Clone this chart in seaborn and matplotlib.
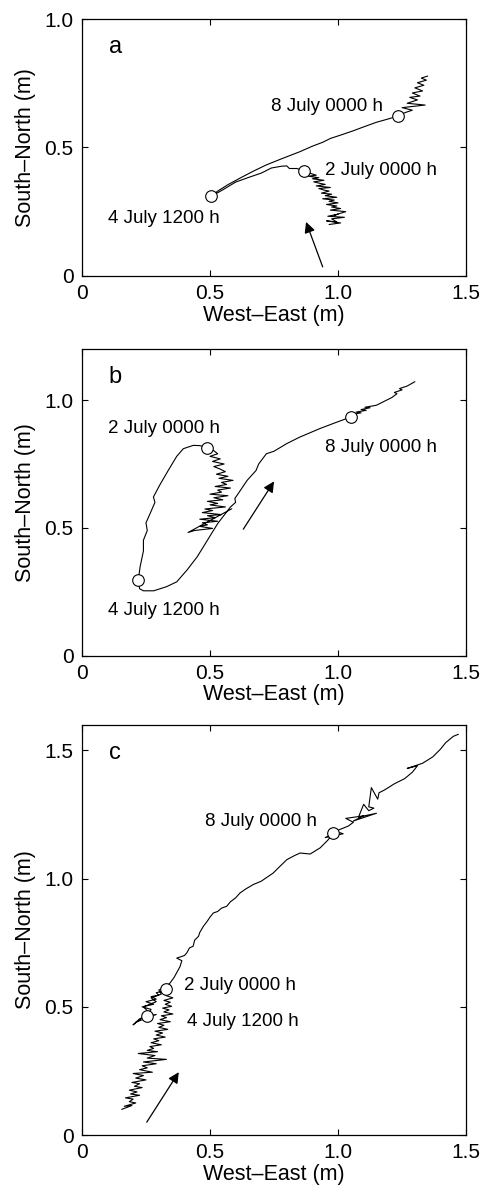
import numpy as np
import pandas as pd
import matplotlib
matplotlib.use("Agg")
import matplotlib.pyplot as plt
import seaborn as sns

# ---- panel a track (West-East, South-North in m) ----
track_a_x = [0.965, 1.01, 0.955, 0.995, 0.975, 1.025, 0.96, 1.00, 0.985, 1.03,
             0.97, 1.01, 0.975, 0.995, 0.955, 1.00, 0.965, 0.985, 0.94, 0.995,
             0.95, 0.975, 0.935, 0.965, 0.945, 0.925, 0.97, 0.915, 0.95, 0.93,
             0.905, 0.945, 0.90, 0.925, 0.885, 0.915, 0.895, 0.875, 0.866,
             0.84, 0.81, 0.80, 0.78, 0.74, 0.70, 0.65, 0.60, 0.55, 0.52, 0.505,
             0.53, 0.57, 0.62, 0.67, 0.72, 0.78, 0.85, 0.90, 0.94, 0.97, 1.01, 1.06,
             1.10, 1.15, 1.20, 1.235,
             1.26, 1.29, 1.25, 1.34, 1.27, 1.31, 1.28, 1.32, 1.29, 1.33, 1.30, 1.335,
             1.31, 1.345, 1.325, 1.35]
track_a_y = [0.200, 0.206, 0.214, 0.210, 0.222, 0.228, 0.232, 0.240, 0.236, 0.250,
             0.256, 0.262, 0.268, 0.272, 0.278, 0.284, 0.290, 0.295, 0.300, 0.306,
             0.312, 0.318, 0.322, 0.330, 0.334, 0.340, 0.344, 0.350, 0.356, 0.360,
             0.366, 0.372, 0.378, 0.382, 0.388, 0.392, 0.398, 0.402, 0.407,
             0.418, 0.418, 0.428, 0.427, 0.420, 0.400, 0.383, 0.365, 0.335, 0.318, 0.310,
             0.330, 0.355, 0.382, 0.408, 0.432, 0.456, 0.483, 0.505, 0.520, 0.535, 0.548, 0.565,
             0.580, 0.598, 0.612, 0.623,
             0.635, 0.645, 0.655, 0.665, 0.672, 0.685, 0.695, 0.700, 0.712, 0.720, 0.732, 0.742,
             0.752, 0.762, 0.770, 0.778]

# ---- panel b track ----
track_b_x = [0.585, 0.414,
             0.44, 0.51, 0.46, 0.49, 0.47, 0.53, 0.46, 0.52, 0.49, 0.545,
             0.47, 0.51, 0.48, 0.56, 0.50, 0.53, 0.49, 0.55, 0.515, 0.57,
             0.50, 0.545, 0.53, 0.58, 0.52, 0.565, 0.545, 0.59, 0.535, 0.57,
             0.525, 0.56, 0.54, 0.515, 0.555, 0.51, 0.54, 0.50, 0.53, 0.515, 0.488,
             0.46, 0.435, 0.396, 0.37, 0.337, 0.305, 0.279, 0.285, 0.266, 0.25, 0.255, 0.24,
             0.24, 0.227, 0.22,
             0.225, 0.24, 0.28, 0.33, 0.37, 0.41, 0.45, 0.49, 0.53, 0.58, 0.60, 0.597, 0.61,
             0.645, 0.68, 0.69, 0.72, 0.75, 0.80, 0.85, 0.93, 0.98, 1.05,
             1.07, 1.055, 1.09, 1.07, 1.11, 1.09, 1.125, 1.105, 1.14, 1.15, 1.18, 1.21, 1.23,
             1.22, 1.25, 1.24, 1.27, 1.30]
track_b_y = [0.575, 0.482,
             0.490, 0.498, 0.506, 0.512, 0.520, 0.526, 0.534, 0.540, 0.548, 0.552,
             0.560, 0.568, 0.574, 0.582, 0.590, 0.596, 0.604, 0.610, 0.618, 0.626,
             0.632, 0.640, 0.648, 0.656, 0.662, 0.670, 0.678, 0.686, 0.694, 0.702,
             0.710, 0.720, 0.730, 0.740, 0.750, 0.760, 0.770, 0.780, 0.790, 0.802, 0.814,
             0.822, 0.823, 0.810, 0.780, 0.725, 0.670, 0.621, 0.600, 0.556, 0.520, 0.490, 0.452,
             0.410, 0.348, 0.295,
             0.262, 0.254, 0.254, 0.270, 0.289, 0.335, 0.387, 0.452, 0.517, 0.582, 0.600, 0.615,
             0.634, 0.686, 0.725, 0.750, 0.790, 0.800, 0.830, 0.855, 0.889, 0.908, 0.934,
             0.940, 0.944, 0.950, 0.953, 0.960, 0.963, 0.970, 0.972, 0.978, 0.980, 0.995, 1.010,
             1.025, 1.030, 1.040, 1.045, 1.055, 1.072]

# ---- panel c track ----
track_c_x = [0.155, 0.195, 0.165, 0.21, 0.185, 0.20, 0.17, 0.225, 0.19, 0.215,
             0.185, 0.235, 0.205, 0.225, 0.195, 0.25, 0.21, 0.24, 0.20, 0.275,
             0.225, 0.255, 0.235, 0.29, 0.24, 0.33, 0.255, 0.285, 0.22, 0.295,
             0.255, 0.28, 0.265, 0.31, 0.27, 0.30, 0.28, 0.325, 0.29, 0.315,
             0.285, 0.335, 0.30, 0.32, 0.295, 0.345, 0.305, 0.33, 0.31, 0.355,
             0.32, 0.34, 0.315, 0.35, 0.325, 0.345, 0.32, 0.355, 0.325, 0.345, 0.33,
             0.31, 0.29, 0.30, 0.27, 0.29, 0.25, 0.28, 0.235, 0.27, 0.253,
             0.29, 0.21, 0.23, 0.20, 0.26, 0.24, 0.29, 0.27, 0.31, 0.30, 0.335,
             0.344, 0.36, 0.383, 0.39, 0.37, 0.40, 0.409, 0.42, 0.434, 0.44, 0.455, 0.46, 0.474,
             0.49, 0.50, 0.513, 0.53, 0.545, 0.565, 0.58, 0.60, 0.617, 0.64, 0.669, 0.70, 0.747,
             0.77, 0.80, 0.83, 0.852, 0.891, 0.93, 0.96, 0.982,
             0.95, 1.02, 0.99, 1.04, 1.06, 1.03, 1.10, 1.06, 1.15, 1.08, 1.10, 1.12, 1.14, 1.12,
             1.13, 1.155, 1.16, 1.18, 1.22, 1.26, 1.29, 1.31, 1.27, 1.33, 1.37, 1.40, 1.42,
             1.45, 1.47]
track_c_y = [0.100, 0.115, 0.112, 0.125, 0.130, 0.140, 0.145, 0.155, 0.160, 0.168,
             0.175, 0.185, 0.190, 0.200, 0.205, 0.215, 0.222, 0.232, 0.240, 0.245,
             0.255, 0.262, 0.270, 0.278, 0.285, 0.295, 0.300, 0.310, 0.318, 0.325,
             0.330, 0.338, 0.345, 0.352, 0.360, 0.368, 0.375, 0.382, 0.390, 0.398,
             0.405, 0.412, 0.420, 0.428, 0.435, 0.442, 0.450, 0.458, 0.465, 0.472,
             0.480, 0.488, 0.495, 0.502, 0.510, 0.518, 0.525, 0.535, 0.545, 0.553, 0.569,
             0.560, 0.555, 0.545, 0.540, 0.530, 0.520, 0.510, 0.500, 0.490, 0.465,
             0.470, 0.440, 0.455, 0.430, 0.480, 0.500, 0.520, 0.535, 0.550, 0.565, 0.585,
             0.593, 0.615, 0.657, 0.680, 0.690, 0.700, 0.710, 0.730, 0.736, 0.760, 0.775, 0.790,
             0.814, 0.835, 0.850, 0.866, 0.872, 0.885, 0.892, 0.910, 0.925, 0.944, 0.960, 0.977,
             0.990, 1.022, 1.045, 1.074, 1.090, 1.100, 1.096, 1.120, 1.150, 1.178,
             1.160, 1.175, 1.185, 1.205, 1.220, 1.235, 1.245, 1.225, 1.255, 1.240, 1.290, 1.265,
             1.275, 1.280, 1.355, 1.310, 1.335, 1.345, 1.370, 1.390, 1.415, 1.440, 1.430, 1.450,
             1.475, 1.505, 1.530, 1.555, 1.563]

# ---- dated markers: 2 July 0000 h, 4 July 1200 h, 8 July 0000 h ----
mark_labels = ["2 July 0000 h", "4 July 1200 h", "8 July 0000 h"]
marks_a_x = [0.866, 0.505, 1.235]
marks_a_y = [0.407, 0.310, 0.623]
marks_b_x = [0.488, 0.22, 1.05]
marks_b_y = [0.814, 0.295, 0.934]
marks_c_x = [0.33, 0.253, 0.982]
marks_c_y = [0.569, 0.465, 1.178]

# label anchor (left edge, vertical centre) for each marker text
text_a_x = [0.95, 0.10, 0.74]
text_a_y = [0.41, 0.225, 0.66]
text_b_x = [0.10, 0.10, 0.95]
text_b_y = [0.89, 0.178, 0.815]
text_c_x = [0.40, 0.41, 0.48]
text_c_y = [0.583, 0.443, 1.224]

# direction arrows (tail, tip)
arrow_a = [(0.94, 0.035), (0.875, 0.21)]
arrow_b = [(0.63, 0.495), (0.75, 0.682)]
arrow_c = [(0.253, 0.05), (0.378, 0.245)]

panel_letters = ["a", "b", "c"]
y_limits = [1.0, 1.2, 1.6]
x_ticks = [0, 0.5, 1.0, 1.5]
x_tick_labels = ["0", "0.5", "1.0", "1.5"]
y_ticks = [[0, 0.5, 1.0], [0, 0.5, 1.0], [0, 0.5, 1.0, 1.5]]
y_tick_labels = [["0", "0.5", "1.0"], ["0", "0.5", "1.0"], ["0", "0.5", "1.0", "1.5"]]


def draw_panel(ax, tx, ty, mx, my, lx, ly, arrow, letter, ymax, yt, ytl):
    track = pd.DataFrame({"x": tx, "y": ty})
    sns.lineplot(data=track, x="x", y="y", sort=False, estimator=None,
                 color="black", lw=0.8, ax=ax)
    marks = pd.DataFrame({"x": mx, "y": my})
    sns.scatterplot(data=marks, x="x", y="y", s=70, color="white",
                    edgecolor="black", linewidth=0.8, zorder=5, ax=ax)
    for lab, x, y in zip(mark_labels, lx, ly):
        ax.text(x, y, lab, ha="left", va="center", fontsize=13.5)
    ax.annotate("", xy=arrow[1], xytext=arrow[0],
                arrowprops=dict(arrowstyle="-|>", color="black", lw=0.9,
                                mutation_scale=16, shrinkA=0, shrinkB=0))
    ax.text(0.13, ymax - 0.11, letter, ha="center", va="center", fontsize=17)

    ax.set_xlim(0, 1.5)
    ax.set_ylim(0, ymax)
    ax.set_xticks(x_ticks)
    ax.set_xticklabels(x_tick_labels)
    ax.set_yticks(yt)
    ax.set_yticklabels(ytl)
    ax.tick_params(direction="in", top=True, right=True, length=4, width=0.8,
                   labelsize=15, pad=6, colors="black")
    ax.set_xlabel("West\u2013East (m)", fontsize=15.5, labelpad=1)
    ax.set_ylabel("South\u2013North (m)", fontsize=15.5, labelpad=6)
    for sp in ax.spines.values():
        sp.set_linewidth(0.9)
        sp.set_color("black")


sns.set_theme(style="ticks")
plt.rcParams["font.family"] = ["Liberation Sans", "DejaVu Sans"]
plt.rcParams["text.color"] = "black"
plt.rcParams["axes.labelcolor"] = "black"

fig = plt.figure(figsize=(4.85, 11.89), dpi=100)
# axes placed to keep equal metres-per-pixel in all three panels
ax_a = fig.add_axes([0.169, 0.768, 0.792, 0.216])
ax_b = fig.add_axes([0.169, 0.4485, 0.792, 0.258])
ax_c = fig.add_axes([0.169, 0.0454, 0.792, 0.345])

draw_panel(ax_a, track_a_x, track_a_y, marks_a_x, marks_a_y, text_a_x, text_a_y,
           arrow_a, panel_letters[0], y_limits[0], y_ticks[0], y_tick_labels[0])
draw_panel(ax_b, track_b_x, track_b_y, marks_b_x, marks_b_y, text_b_x, text_b_y,
           arrow_b, panel_letters[1], y_limits[1], y_ticks[1], y_tick_labels[1])
draw_panel(ax_c, track_c_x, track_c_y, marks_c_x, marks_c_y, text_c_x, text_c_y,
           arrow_c, panel_letters[2], y_limits[2], y_ticks[2], y_tick_labels[2])

fig.savefig("out.png", dpi=100)
